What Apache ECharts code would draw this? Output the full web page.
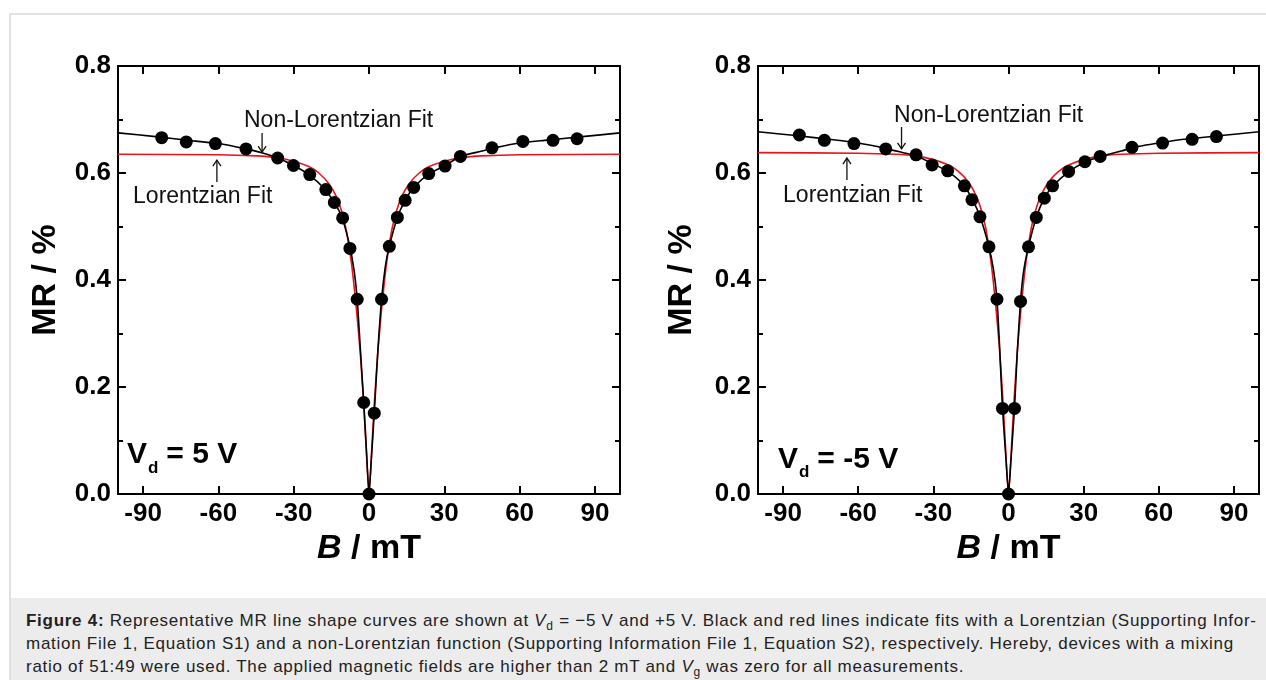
<!DOCTYPE html>
<html>
<head>
<meta charset="utf-8">
<script src="https://cdn.jsdelivr.net/npm/echarts@6/dist/echarts.min.js"></script>
<style>
  body{margin:0;background:#fff;width:1266px;height:680px;overflow:hidden;position:relative;font-family:"Liberation Sans",Arial,sans-serif;}
  #frame{position:absolute;left:9px;top:13px;width:1270px;height:700px;border-left:2px solid #e2e2e2;border-top:2px solid #e2e2e2;}
  #chart{position:absolute;left:0;top:0;width:1266px;height:598px;}
  #caption{position:absolute;left:11px;top:598px;width:1255px;height:82px;background:#ececec;color:#222;
    font-size:17px;letter-spacing:0.72px;line-height:23px;padding:11px 0 0 15px;box-sizing:border-box;white-space:nowrap;}
  #caption sub{font-size:12px;line-height:0;}
</style>
</head>
<body>
<div id="frame"></div>
<div id="chart"></div>
<div id="caption">
  <b>Figure 4:</b> Representative MR line shape curves are shown at <i>V</i><sub>d</sub> = &minus;5 V and +5 V. Black and red lines indicate fits with a Lorentzian (Supporting Infor-<br>
  mation File 1, Equation S1) and a non-Lorentzian function (Supporting Information File 1, Equation S2), respectively. Hereby, devices with a mixing<br>
  ratio of 51:49 were used. The applied magnetic fields are higher than 2 mT and <i>V</i><sub>g</sub> was zero for all measurements.
</div>
<script>
// ---- data ----
// V_d = 5 V (left panel)
var bDotsP5  = [-82.6,-72.8,-61.2,-49.0,-36.4,-30.1,-23.6,-17.2,-13.8,-10.5,-7.6,-4.7,-2.1,0,2.1,5.0,8.1,11.3,14.4,17.8,23.8,30.3,36.4,49.0,61.3,73.3,82.9];
var mrDotsP5 = [0.666,0.658,0.655,0.645,0.628,0.614,0.597,0.569,0.545,0.516,0.459,0.364,0.171,0.0,0.151,0.364,0.463,0.517,0.549,0.573,0.599,0.613,0.631,0.647,0.659,0.661,0.664];
var bNonLorP5  = [-100,-85,-70,-60,-50,-42,-36.4,-30,-24,-18,-14,-11,-8,-6,-4.7,-3.5,-2.1,-1,0,1,2.1,3.5,5,6.5,8.1,11.3,14.4,18,24,30,36.4,45,50,60,70,85,100];
var mrNonLorP5 = [0.675,0.668,0.660,0.655,0.646,0.637,0.628,0.614,0.597,0.572,0.546,0.520,0.470,0.420,0.364,0.275,0.171,0.080,0.0,0.070,0.151,0.265,0.364,0.425,0.463,0.517,0.549,0.574,0.599,0.613,0.631,0.641,0.647,0.656,0.661,0.668,0.675];
var bLorP5  = [-100,-60,-45,-37,-30,-24,-20,-16,-13,-11,-9,-7,-5,-3.5,-2,-1,0,1,2,3.5,5,7,9,11,13,16,20,24,30,37,45,60,100];
var mrLorP5 = [0.635,0.634,0.632,0.629,0.622,0.612,0.600,0.580,0.556,0.530,0.492,0.432,0.345,0.265,0.160,0.075,0.0,0.075,0.160,0.265,0.345,0.432,0.492,0.530,0.556,0.580,0.600,0.612,0.622,0.629,0.632,0.634,0.635];

// V_d = -5 V (right panel)
var bDotsM5  = [-83.5,-73.5,-61.7,-49.0,-36.9,-30.5,-24.3,-17.6,-14.6,-11.4,-7.8,-4.6,-2.4,0,2.4,4.8,8.0,11.1,14.3,17.6,24.0,30.5,36.6,49.3,61.5,73.3,83.0];
var mrDotsM5 = [0.671,0.661,0.655,0.645,0.634,0.615,0.604,0.576,0.550,0.518,0.462,0.364,0.160,0.0,0.160,0.360,0.462,0.517,0.553,0.576,0.603,0.621,0.631,0.648,0.656,0.663,0.668];
var bNonLorM5  = [-100,-85,-70,-60,-50,-42,-36.9,-30,-24,-18,-14.6,-11.4,-8,-6,-4.6,-3.5,-2.4,-1,0,1,2.4,3.5,4.8,6,8,11.1,14.3,18,24,30,36.6,45,50,60,70,85,100];
var mrNonLorM5 = [0.677,0.670,0.662,0.656,0.647,0.638,0.632,0.617,0.602,0.578,0.552,0.519,0.465,0.420,0.364,0.270,0.160,0.065,0.0,0.065,0.160,0.265,0.360,0.415,0.463,0.517,0.553,0.577,0.602,0.619,0.631,0.641,0.648,0.656,0.663,0.670,0.677];
var bLorM5  = [-100,-60,-45,-37,-30,-24,-20,-16,-13,-11,-9,-7,-5,-3.5,-2,-1,0,1,2,3.5,5,7,9,11,13,16,20,24,30,37,45,60,100];
var mrLorM5 = [0.638,0.637,0.635,0.632,0.625,0.615,0.603,0.583,0.558,0.533,0.495,0.435,0.348,0.265,0.158,0.070,0.0,0.070,0.158,0.265,0.348,0.435,0.495,0.533,0.558,0.583,0.603,0.615,0.625,0.632,0.635,0.637,0.638];

var xTicks = [-90,-60,-30,0,30,60,90];

var FONT = '"Liberation Sans", Arial, sans-serif';

function zip(xs, ys){ return xs.map(function(x,i){ return [x, ys[i]]; }); }

var chart = echarts.init(document.getElementById('chart'));

function xAxes(grid){
  var line = {onZero:false, lineStyle:{color:'#000', width:2}};
  return [{
    gridIndex: grid, type:'value', min:-100, max:100, position:'bottom',
    axisLine: line,
    axisTick: {inside:true, length:8, lineStyle:{width:2, color:'#000'}, customValues: xTicks},
    axisLabel: {customValues: xTicks, color:'#000', fontSize:26, fontWeight:'bold', fontFamily:FONT, margin:7},
    splitLine: {show:false},
    name: '{i|B} / mT', nameLocation:'middle', nameGap:32,
    nameTextStyle: {color:'#000', fontSize:34, fontWeight:'bold', fontFamily:FONT,
      rich:{i:{fontStyle:'italic', fontWeight:'bold', fontSize:34, fontFamily:FONT, color:'#000'}}}
  },{
    gridIndex: grid, type:'value', min:-100, max:100, position:'top',
    axisLine: line,
    axisTick: {inside:true, length:8, lineStyle:{width:2, color:'#000'}, customValues: xTicks},
    axisLabel: {show:false}, splitLine:{show:false}
  }];
}
function yAxes(grid, gap){
  var line = {onZero:false, lineStyle:{color:'#000', width:2}};
  return [{
    gridIndex: grid, type:'value', min:0, max:0.8, interval:0.2, position:'left',
    axisLine: line,
    axisTick: {inside:true, length:8, lineStyle:{width:2, color:'#000'}},
    minorTick: {show:true, splitNumber:2, length:5, lineStyle:{width:2, color:'#000'}},
    axisLabel: {color:'#000', fontSize:26, fontWeight:'bold', fontFamily:FONT, margin:7,
      formatter:function(v){ return v.toFixed(1); }},
    splitLine: {show:false},
    name: 'MR / %', nameLocation:'middle', nameGap:gap, nameRotate:90,
    nameTextStyle: {color:'#000', fontSize:34, fontWeight:'bold', fontFamily:FONT}
  },{
    gridIndex: grid, type:'value', min:0, max:0.8, interval:0.2, position:'right',
    axisLine: line,
    axisTick: {inside:true, length:8, lineStyle:{width:2, color:'#000'}},
    minorTick: {show:true, splitNumber:2, length:5, lineStyle:{width:2, color:'#000'}},
    axisLabel: {show:false}, splitLine:{show:false}
  }];
}

function panelSeries(ax, ay, dotsB, dotsMr, nlB, nlMr, lB, lMr){
  return [{
    type:'line', xAxisIndex:ax, yAxisIndex:ay, data: zip(lB, lMr), showSymbol:false, smooth:0.2,
    lineStyle:{color:'#e8141c', width:1.6}, z:2, silent:true
  },{
    type:'line', xAxisIndex:ax, yAxisIndex:ay, data: zip(nlB, nlMr), showSymbol:false, smooth:0.2,
    lineStyle:{color:'#000', width:1.6}, z:3, silent:true
  },{
    type:'scatter', xAxisIndex:ax, yAxisIndex:ay, data: zip(dotsB, dotsMr), symbolSize:13,
    itemStyle:{color:'#000', opacity:1}, z:4, silent:true
  }];
}

var x0 = xAxes(0), x1 = xAxes(1), y0 = yAxes(0, 55), y1 = yAxes(1, 59);

chart.setOption({
  animation:false,
  grid:[
    {left:118, top:66, width:502, height:428},
    {left:758, top:66, width:501, height:428}
  ],
  xAxis: [x0[0], x0[1], x1[0], x1[1]],
  yAxis: [y0[0], y0[1], y1[0], y1[1]],
  series: [].concat(
    panelSeries(0, 0, bDotsP5, mrDotsP5, bNonLorP5, mrNonLorP5, bLorP5, mrLorP5),
    panelSeries(2, 2, bDotsM5, mrDotsM5, bNonLorM5, mrNonLorM5, bLorM5, mrLorM5)
  )
});

// ---- annotations, placed in data coordinates ----
var annotations = [
  {grid:0, nlText:[-49.8,0.697], nlArrow:[-42.6,0.675,0.639], lArrow:[-60.6,0.583,0.624], lText:[-94.0,0.555], vd:[-96.4,0.073], vdText:' = 5 V'},
  {grid:1, nlText:[-45.7,0.708], nlArrow:[-42.7,0.686,0.645], lArrow:[-64.5,0.587,0.628], lText:[-90.0,0.557], vd:[-92.0,0.064], vdText:' = -5 V'}
];

function px(g, p){ return chart.convertToPixel({xAxisIndex: g*2, yAxisIndex: g*2}, p); }

function arrow(g, x, yFrom, yTo){
  var a = px(g, [x, yFrom]), b = px(g, [x, yTo]);
  var dir = b[1] > a[1] ? -1 : 1;
  return {type:'group', silent:true, z:10, children:[
    {type:'line', shape:{x1:a[0], y1:a[1], x2:b[0], y2:b[1]}, style:{stroke:'#111', lineWidth:1.3}},
    {type:'polyline', shape:{points:[[b[0]-4, b[1]+dir*6],[b[0], b[1]],[b[0]+4, b[1]+dir*6]]}, style:{stroke:'#111', lineWidth:1.3, fill:null}}
  ]};
}
function label(g, p, text){
  var q = px(g, p);
  return {type:'text', x:q[0], y:q[1], silent:true, z:10,
    style:{text:text, fill:'#111', font:'23px ' + FONT, textAlign:'left', textVerticalAlign:'middle'}};
}
function vdLabel(g, p, text){
  var q = px(g, p);
  var bold = 'bold 30px ' + FONT;
  return {type:'group', x:q[0], y:q[1], silent:true, z:10, children:[
    {type:'text', x:0, y:0, style:{text:'V', fill:'#000', font:bold, textVerticalAlign:'middle'}},
    {type:'text', x:21, y:13, style:{text:'d', fill:'#000', font:'bold 17px ' + FONT, textVerticalAlign:'middle'}},
    {type:'text', x:31, y:0, style:{text:text, fill:'#000', font:bold, textVerticalAlign:'middle'}}
  ]};
}

var graphics = [];
annotations.forEach(function(a){
  graphics.push(label(a.grid, a.nlText, 'Non-Lorentzian Fit'));
  graphics.push(arrow(a.grid, a.nlArrow[0], a.nlArrow[1], a.nlArrow[2]));
  graphics.push(arrow(a.grid, a.lArrow[0], a.lArrow[1], a.lArrow[2]));
  graphics.push(label(a.grid, a.lText, 'Lorentzian Fit'));
  graphics.push(vdLabel(a.grid, a.vd, a.vdText));
});
chart.setOption({graphic: graphics});
</script>
</body>
</html>
